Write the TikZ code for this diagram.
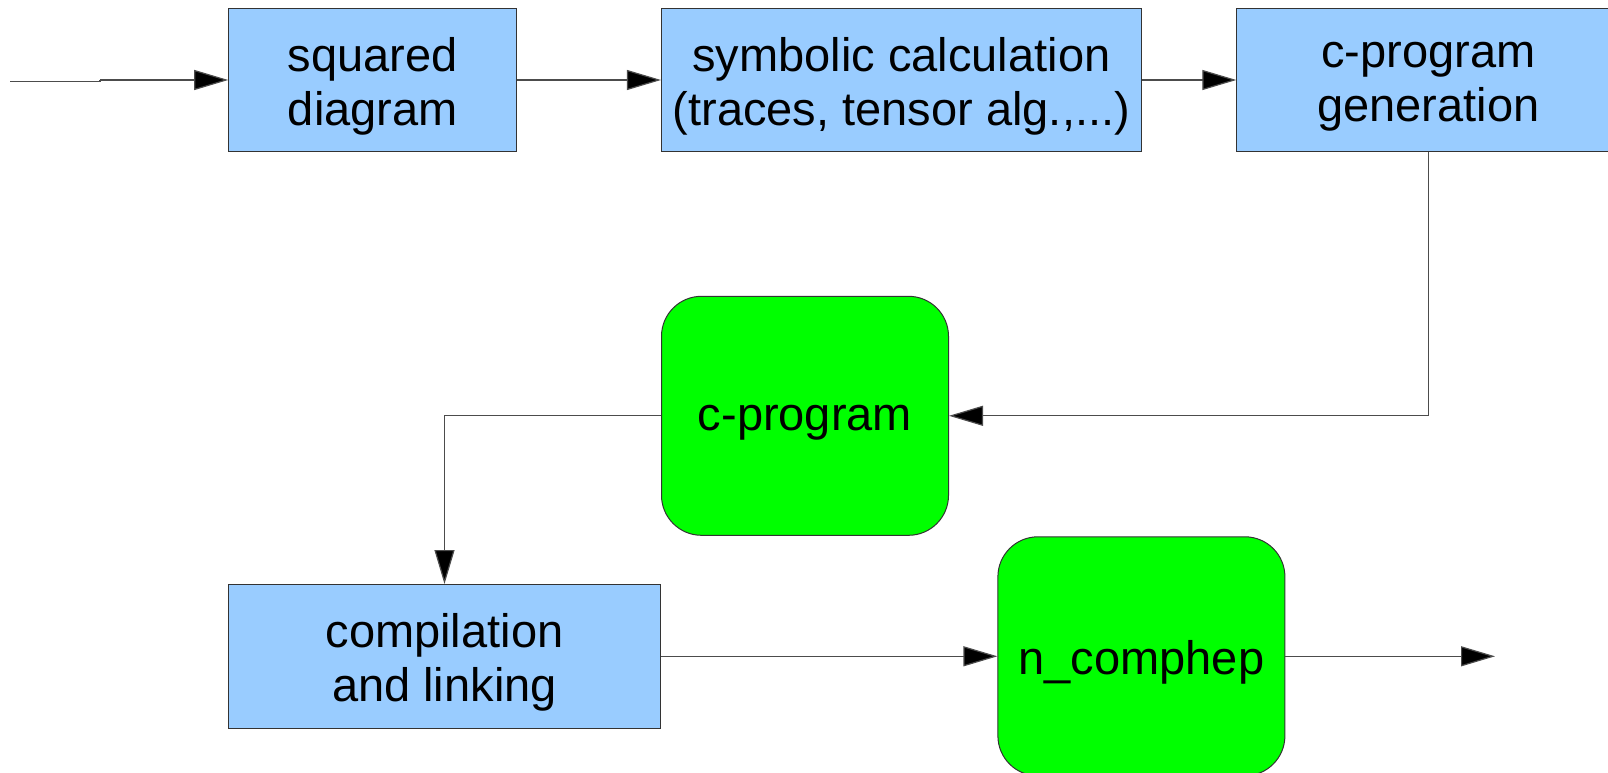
\documentclass[tikz,border=0pt]{standalone}
\usepackage{fontspec}
\setmainfont{Liberation Sans}
\usetikzlibrary{arrows.meta}
\definecolor{boxblue}{HTML}{99CCFF}
\definecolor{boxgreen}{HTML}{00FF00}
\begin{document}
\begin{tikzpicture}[x=1pt,y=-1pt,
  every node/.style={font=\fontsize{47}{54}\selectfont, align=center, inner sep=0pt},
  txt/.style={label={[yshift=-6.5pt]center:{#1}}},
  bluebox/.style={draw=black!80, line width=1pt, fill=boxblue, minimum width=#1, minimum height=143.6pt},
  greenbox/.style={draw=black!80, line width=1pt, fill=boxgreen, rounded corners=40pt, minimum width=287pt, minimum height=239pt},
  conn/.style={draw=black!70, line width=1.2pt, -{Triangle[length=34pt,width=20pt,fill=black]}},
  plain/.style={draw=black!70, line width=1.2pt}]
\useasboundingbox (0,0) rectangle (1608,773);
\node[bluebox=288.2pt, txt={squared\\diagram}] (sq) at (372.8,80) {};
\node[bluebox=480pt, txt={symbolic calculation\\(traces, tensor alg.,...)}] (sym) at (901.4,80) {};
\node[bluebox=383pt, txt={c-program\\generation}] (gen) at (1428.3,80) {};
\node[greenbox, txt={c-program}] (cp) at (805,415.8) {};
\node[bluebox=431.7pt, txt={compilation\\and linking}] (comp) at (444.5,656.3) {};
\node[greenbox, txt={n\_comphep}] (nc) at (1141.4,656.3) {};
\coordinate (in) at (10.3,81.5);
\coordinate (out) at (1495,656.3);
\draw[plain] (in) -- (100,81.5) -- (100,80);
\draw[conn] (100,80) -- (sq.west);
\draw[conn] (sq.east) -- (sym.west);
\draw[conn] (sym.east) -- (gen.west);
\draw[conn] (gen.south) |- (cp.east);
\draw[conn] (cp.west) -| (comp.north);
\draw[conn] (comp.east) -- (nc.west);
\draw[conn] (nc.east) -- (out);
\end{tikzpicture}
\end{document}
